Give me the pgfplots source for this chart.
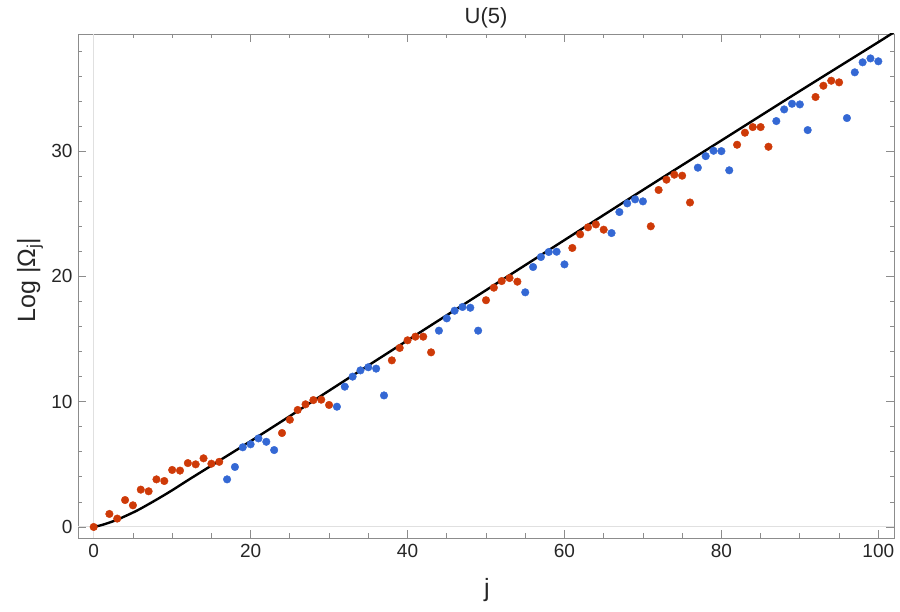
\documentclass[border=0pt]{standalone}
\usepackage{pgfplots}
\pgfplotsset{compat=1.18}
\usepackage{fontspec}
\setmainfont{Liberation Sans}
\definecolor{myred}{RGB}{206,58,8}
\definecolor{myblue}{RGB}{52,104,212}
\definecolor{framegray}{RGB}{140,140,140}
\begin{document}
\begin{tikzpicture}
\useasboundingbox (0,0) rectangle (900bp,612bp);
\begin{axis}[
  at={(78bp,74bp)}, anchor=south west,
  scale only axis, width=816bp, height=504bp,
  xmin=-2, xmax=102, ymin=-0.88, ymax=39.35,
  xtick={0,20,40,60,80,100}, ytick={0,10,20,30},
  minor xtick={5,10,15,25,30,35,45,50,55,65,70,75,85,90,95},
  minor ytick={2,4,6,8,12,14,16,18,22,24,26,28,32,34,36,38},
  tick align=inside, tick pos=both,
  major tick length=8bp, minor tick length=4.5bp,
  axis line style={framegray, line width=0.9bp},
  every tick/.style={framegray, line width=0.8bp},
  /pgf/number format/assume math mode=true,
  ticklabel style={font=\fontsize{19bp}{19bp}\selectfont, text=black!85},
  xticklabel style={yshift=-3bp},
  yticklabel style={xshift=-2bp},
  clip=true,
]
\draw[black!12, line width=1bp] (axis cs:0,-0.88) -- (axis cs:0,39.35);
\draw[black!12, line width=1bp] (axis cs:-2,0) -- (axis cs:102,0);
\addplot[only marks, mark=*, mark size=3.8bp, color=myred] coordinates {
(0,0) (2,1.04) (3,0.67) (4,2.15) (5,1.73) (6,2.98) (7,2.85) (8,3.8) (9,3.67)
(10,4.55) (11,4.5) (12,5.1) (13,5.0) (14,5.48) (15,5.05) (16,5.2)
(24,7.5) (25,8.56) (26,9.34) (27,9.79) (28,10.13) (29,10.16) (30,9.74)
(38,13.3) (39,14.29) (40,14.9) (41,15.19) (42,15.19) (43,13.94)
(50,18.1) (51,19.1) (52,19.63) (53,19.87) (54,19.58)
(61,22.27) (62,23.36) (63,23.92) (64,24.15) (65,23.73)
(71,24.0) (72,26.9) (73,27.72) (74,28.12) (75,28.04) (76,25.9)
(82,30.51) (83,31.47) (84,31.92) (85,31.92) (86,30.35)
(92,34.32) (93,35.22) (94,35.62) (95,35.49)
};
\addplot[only marks, mark=*, mark size=3.8bp, color=myblue] coordinates {
(17,3.8) (18,4.79) (19,6.36) (20,6.6) (21,7.07) (22,6.8) (23,6.14)
(31,9.6) (32,11.2) (33,12.0) (34,12.5) (35,12.75) (36,12.64) (37,10.5)
(44,15.67) (45,16.65) (46,17.26) (47,17.56) (48,17.5) (49,15.67)
(55,18.73) (56,20.75) (57,21.55) (58,21.95) (59,21.97) (60,20.96)
(66,23.46) (67,25.14) (68,25.83) (69,26.15) (70,25.99)
(77,28.68) (78,29.6) (79,30.03) (80,30.0) (81,28.47)
(87,32.4) (88,33.33) (89,33.78) (90,33.73) (91,31.68)
(96,32.64) (97,36.29) (98,37.09) (99,37.4) (100,37.17)
};
\addplot[black, line width=2.4bp, smooth, no marks] coordinates {
(0,0) (1,0.15) (2,0.35) (3,0.58) (4,0.86) (5,1.15) (6,1.47) (8,2.18) (10,2.93)
(12,3.73) (15,4.9) (20,6.85) (25,8.85) (30,10.88) (40,14.9) (50,18.9)
(60,22.9) (70,26.9) (80,30.85) (90,34.8) (100,38.7) (102,39.5)
};
\end{axis}
\node[font=\fontsize{22bp}{22bp}\selectfont, text=black!85] at (486bp,594bp) {U(5)};
\node[font=\fontsize{25bp}{25bp}\selectfont, text=black!85] at (487bp,22bp) {j};
\node[font=\fontsize{25bp}{25bp}\selectfont, text=black!85, rotate=90] at (30bp,332bp) {Log |Ω\textsubscript{j}|};
\end{tikzpicture}
\end{document}
